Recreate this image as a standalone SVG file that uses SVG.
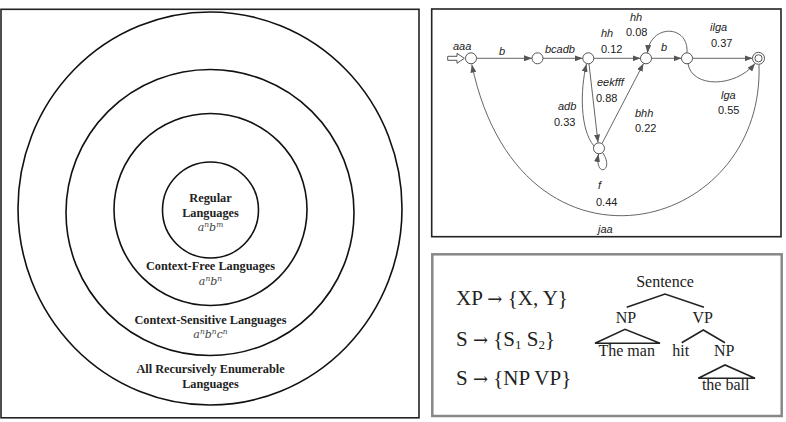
<svg xmlns="http://www.w3.org/2000/svg" width="786" height="422" viewBox="0 0 786 422">
<style>
.ring{fill:none;stroke:#111;stroke-width:1.6}
.cl{font-family:"Liberation Serif",serif;font-weight:bold;font-size:12.3px;fill:#222;text-anchor:middle}
.ex{font-family:"DejaVu Serif","Liberation Serif",serif;font-style:italic;font-size:11px;fill:#444;text-anchor:middle}
.node{fill:#fff;stroke:#555;stroke-width:1}
.edge{fill:none;stroke:#666;stroke-width:1}
.lab{font-family:"Liberation Sans",Arial,sans-serif;font-size:11px;fill:#222}
.it{font-style:italic}
.rule{font-family:"Liberation Serif",serif;font-size:21px;fill:#222}
.arr{font-family:"DejaVu Serif",serif;font-size:18px}
.tr{font-family:"Liberation Serif",serif;font-size:16px;fill:#222;text-anchor:middle}
.tl{fill:none;stroke:#222;stroke-width:1.6}
</style>
<defs>
<marker id="ah" viewBox="0 0 8 6" refX="8" refY="3" markerWidth="8" markerHeight="6" markerUnits="userSpaceOnUse" orient="auto">
<path d="M0,0 L8,3 L0,6 z" fill="#555"/>
</marker>
</defs>
<rect width="786" height="422" fill="#fff"/>

<!-- Left panel: Chomsky hierarchy -->
<g id="hierarchy">
<rect x="1" y="9.3" width="418" height="408.5" fill="none" stroke="#222" stroke-width="1.6"/>
<g id="re"><ellipse class="ring" cx="210" cy="208.5" rx="192" ry="196.5"/>
<text class="cl" x="210.5" y="373">All Recursively Enumerable</text>
<text class="cl" x="210.5" y="387.5">Languages</text></g>
<g id="cs"><ellipse class="ring" cx="210" cy="212.5" rx="144" ry="143"/>
<text class="cl" x="210.5" y="323.5">Context-Sensitive Languages</text>
<text class="ex" x="210.5" y="337.5">a<tspan font-size="7.5" dy="-4">n</tspan><tspan dy="4">b</tspan><tspan font-size="7.5" dy="-4">n</tspan><tspan dy="4">c</tspan><tspan font-size="7.5" dy="-4">n</tspan></text></g>
<g id="cf"><ellipse class="ring" cx="210.5" cy="209.5" rx="96.5" ry="96"/>
<text class="cl" x="210.5" y="270">Context-Free Languages</text>
<text class="ex" x="210.5" y="284.5">a<tspan font-size="7.5" dy="-4">n</tspan><tspan dy="4">b</tspan><tspan font-size="7.5" dy="-4">n</tspan></text></g>
<g id="reg"><circle class="ring" cx="210.5" cy="210" r="48"/>
<text class="cl" x="210.5" y="201.5">Regular</text>
<text class="cl" x="210.5" y="216.5">Languages</text>
<text class="ex" x="210.5" y="231">a<tspan font-size="7.5" dy="-4">n</tspan><tspan dy="4">b</tspan><tspan font-size="7.5" dy="-4">m</tspan></text></g>
</g>

<!-- Top right: automaton -->
<rect x="431.7" y="9" width="349.3" height="227.7" fill="none" stroke="#222" stroke-width="1.6"/>
<g id="connectors">
<path class="edge" d="M476.5,58.3 L532,58.3" marker-end="url(#ah)"/>
<path class="edge" d="M543,58.3 L582.8,58.3" marker-end="url(#ah)"/>
<path class="edge" d="M593.8,58.3 L640.5,58.3" marker-end="url(#ah)"/>
<path class="edge" d="M651.5,58.3 L681.5,58.3" marker-end="url(#ah)"/>
<path class="edge" d="M692.5,58.3 L752.5,58.3" marker-end="url(#ah)"/>
<path class="edge" d="M687,52.8 C689,24 650,24 647.5,53" marker-end="url(#ah)"/>
<path class="edge" d="M688,63.8 C692,88 735,88 755,63.5" marker-end="url(#ah)"/>
<path class="edge" d="M589,63.8 L598,142.5" marker-end="url(#ah)"/>
<path class="edge" d="M594,146 C580,130 580,90 586.5,64" marker-end="url(#ah)"/>
<path class="edge" d="M602,143.5 L643.5,63.5" marker-end="url(#ah)"/>
<path class="edge" d="M603,153 C615,172 594,178 598.5,154" marker-end="url(#ah)"/>
<path class="edge" d="M759,64.5 C765,235 520,295 471.8,64.5" marker-end="url(#ah)"/>
<path d="M447.7,56.3 H457 V53.3 L464.3,58.3 L457,63.3 V60.3 H447.7 Z" fill="#fff" stroke="#555" stroke-width="1"/>
</g>
<g id="n1"><circle class="node" cx="471" cy="58.3" r="5.5"/></g>
<g id="n2"><circle class="node" cx="537.5" cy="58.3" r="5.5"/></g>
<g id="n3"><circle class="node" cx="588.3" cy="58.3" r="5.5"/></g>
<g id="n4"><circle class="node" cx="646" cy="58.3" r="5.5"/></g>
<g id="n5"><circle class="node" cx="687" cy="58.3" r="5.5"/></g>
<g id="nf"><circle class="node" cx="758.5" cy="58.3" r="6"/><circle class="node" cx="758.5" cy="58.3" r="3.6"/></g>
<g id="nb"><circle class="node" cx="599" cy="148.3" r="5.5"/></g>
<g id="auto-labels" class="lab">
<text class="it" x="453" y="50">aaa</text>
<text class="it" x="499" y="55">b</text>
<text class="it" x="545" y="53">bcadb</text>
<text class="it" x="601" y="37">hh</text>
<text x="601" y="53">0.12</text>
<text class="it" x="630" y="21">hh</text>
<text x="626" y="36">0.08</text>
<text class="it" x="661" y="51">b</text>
<text class="it" x="710" y="31">ilga</text>
<text x="711" y="47">0.37</text>
<text class="it" x="721" y="99">lga</text>
<text x="718" y="114">0.55</text>
<text class="it" x="597" y="86">eekfff</text>
<text x="596" y="102">0.88</text>
<text class="it" x="558" y="110">adb</text>
<text x="554" y="126">0.33</text>
<text class="it" x="635" y="117">bhh</text>
<text x="635" y="132">0.22</text>
<text class="it" x="598" y="189">f</text>
<text x="596" y="206">0.44</text>
<text class="it" x="598" y="233">jaa</text>
</g>

<!-- Bottom right: phrase structure -->
<rect x="432.3" y="254.3" width="349.4" height="161.7" fill="none" stroke="#888" stroke-width="2.5"/>
<g id="rules" class="rule">
<text x="456" y="305">XP <tspan class="arr">→</tspan> {X, Y}</text>
<text x="456" y="346">S <tspan class="arr">→</tspan> {S<tspan font-size="13" dy="3">1</tspan><tspan dy="-3"> S</tspan><tspan font-size="13" dy="3">2</tspan><tspan dy="-3">}</tspan></text>
<text x="456" y="385">S <tspan class="arr">→</tspan> {NP VP}</text>
</g>
<g id="tree">
<text class="tr" x="665" y="287">Sentence</text>
<path class="tl" d="M626.7,307.3 L665,294 L704,307.3"/>
<text class="tr" x="626" y="322.7">NP</text>
<text class="tr" x="702.7" y="322.7">VP</text>
<path class="tl" d="M595,343.3 L625,329.3 L660,343.3 Z"/>
<text class="tr" x="626.7" y="356">The man</text>
<path class="tl" d="M681.7,342.7 L703.3,330 L725,342.7"/>
<text class="tr" x="680.7" y="356">hit</text>
<text class="tr" x="724.3" y="356">NP</text>
<path class="tl" d="M698.3,378.3 L725,365 L755,378.3 Z"/>
<text class="tr" x="725.7" y="390">the ball</text>
</g>
</svg>
